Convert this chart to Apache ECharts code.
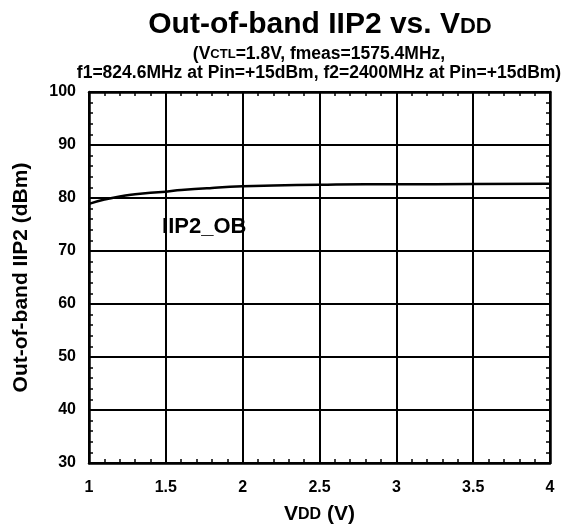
<!DOCTYPE html>
<html>
<head>
<meta charset="utf-8">
<script src="https://cdn.jsdelivr.net/npm/echarts@6/dist/echarts.min.js"></script>
<style>html,body{margin:0;padding:0;background:#fff}#c{width:565px;height:526px}</style>
</head>
<body>
<div id="c"></div>
<script>
const vdd = [1.0, 1.1, 1.2, 1.3, 1.4, 1.5, 1.6, 1.8, 2.0, 2.2, 2.5, 2.8, 3.0, 3.5, 4.0];
const iip2 = [78.9, 79.7, 80.3, 80.7, 81.0, 81.2, 81.5, 81.9, 82.2, 82.35, 82.5, 82.6, 82.6, 82.65, 82.7];
const seriesName = 'IIP2_OB';
const labelPos = [1.75, 74.8];
const xTicks = [1, 1.5, 2, 2.5, 3, 3.5, 4];
const yTicks = [30, 40, 50, 60, 70, 80, 90, 100];

const FONT = 'Liberation Sans, Arial, sans-serif';
const chart = echarts.init(document.getElementById('c'));
const axisCommon = {
  axisLine: {show: true, lineStyle: {color: '#000', width: 2.5}},
  axisTick: {show: true, inside: true, length: 8, lineStyle: {color: '#000', width: 2}},
  minorTick: {show: true, splitNumber: 5, length: 4, lineStyle: {color: '#000', width: 1.5}},
};
chart.setOption({
  animation: false,
  backgroundColor: '#fff',
  title: [{
    text: 'Out-of-band IIP2 vs. V{s|DD}',
    left: 315, top: 5, textAlign: 'center',
    textStyle: {fontFamily: FONT, fontWeight: 'bold', fontSize: 30, color: '#000',
      rich: {s: {fontFamily: FONT, fontWeight: 'bold', fontSize: 22, color: '#000', verticalAlign: 'bottom', padding:[0,0,2,0]}}}
  }, {
    text: '(V{s|CTL}=1.8V, fmeas=1575.4MHz,\nf1=824.6MHz at Pin=+15dBm, f2=2400MHz at Pin=+15dBm)',
    left: 314, top: 40, textAlign: 'center',
    textStyle: {fontFamily: FONT, fontWeight: 'bold', fontSize: 17.5, lineHeight: 19, color: '#000',
      rich: {s: {fontFamily: FONT, fontWeight: 'bold', fontSize: 13, color: '#000', lineHeight: 19}}}
  }],
  grid: {left: 89, right: 15, top: 92, bottom: 63, containLabel: false, outerBoundsMode: 'none'},
  xAxis: [{
    type: 'value', min: 1, max: 4, interval: 0.5, position: 'bottom',
    ...axisCommon,
    axisLabel: {fontFamily: FONT, fontWeight: 'bold', fontSize: 16, color: '#000', margin: 17,
      formatter: v => xTicks.includes(v) ? String(v) : ''},
    splitLine: {show: true, lineStyle: {color: '#000', width: 2}},
    name: 'V{s|DD} (V)', nameLocation: 'middle', nameGap: 41,
    nameTextStyle: {fontFamily: FONT, fontWeight: 'bold', fontSize: 21, color: '#000',
      rich: {s: {fontFamily: FONT, fontWeight: 'bold', fontSize: 16, color: '#000'}}}
  }, {
    type: 'value', min: 1, max: 4, interval: 0.5, position: 'top',
    ...axisCommon, axisLabel: {show: false}, splitLine: {show: false}
  }],
  yAxis: [{
    type: 'value', min: 30, max: 100, interval: 10, position: 'left',
    ...axisCommon,
    axisLabel: {fontFamily: FONT, fontWeight: 'bold', fontSize: 16, color: '#000', margin: 13,
      formatter: v => yTicks.includes(v) ? String(v) : ''},
    splitLine: {show: true, lineStyle: {color: '#000', width: 2}},
    name: 'Out-of-band IIP2 (dBm)', nameLocation: 'middle', nameGap: 57, nameRotate: 90,
    nameTextStyle: {fontFamily: FONT, fontWeight: 'bold', fontSize: 21, color: '#000'}
  }, {
    type: 'value', min: 30, max: 100, interval: 10, position: 'right',
    ...axisCommon, axisLabel: {show: false}, splitLine: {show: false}
  }],
  series: [{
    name: seriesName, type: 'line', smooth: true, symbol: 'none',
    xAxisIndex: 0, yAxisIndex: 0,
    data: vdd.map((v, i) => [v, iip2[i]]),
    lineStyle: {color: '#000', width: 2.5}
  }, {
    type: 'scatter', symbolSize: 0, itemStyle: {color: '#000', opacity: 1},
    xAxisIndex: 0, yAxisIndex: 0, silent: true, emphasis: {disabled: true},
    data: [labelPos],
    label: {show: true, position: 'top', distance: -12, opacity: 1, formatter: seriesName, fontFamily: FONT, fontWeight: 'bold', fontSize: 22, color: '#000'}
  }]
});
</script>
</body>
</html>
